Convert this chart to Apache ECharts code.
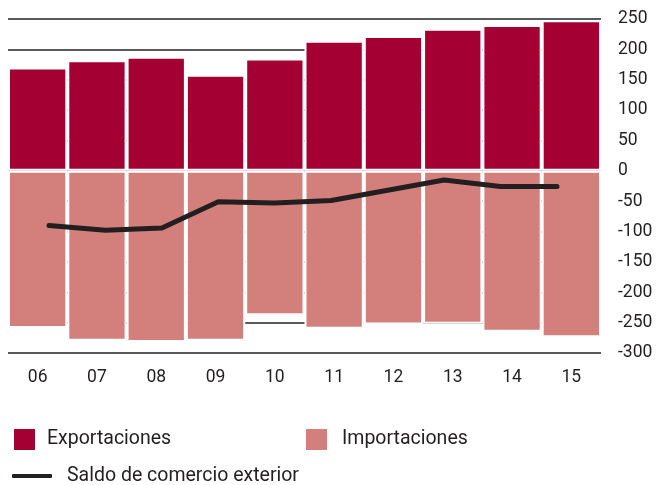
<!DOCTYPE html>
<html>
<head>
<meta charset="utf-8">
<script src="https://cdn.jsdelivr.net/npm/echarts@6/dist/echarts.min.js"></script>
<style>
html,body{margin:0;padding:0;background:#fff;}
#c{width:656px;height:485px;}
</style>
</head>
<body>
<div id="c"></div>
<script>
var categories = ['06','07','08','09','10','11','12','13','14','15'];
var exportaciones = [170, 182, 188, 158, 185, 214, 222, 234, 240, 248];
var importaciones = [-259, -280, -282, -280, -238, -260, -253, -252, -265, -274];
var saldo = [-90, -98, -94, -51, -53, -49, -32, -15, -26, -26];
var yTicks = [250, 200, 150, 100, 50, 0, -50, -100, -150, -200, -250, -300];

var FONT = 'Roboto';
var TXT = '#231f20';
var chart = echarts.init(document.getElementById('c'), null, {renderer: 'canvas'});
chart.setOption({
  animation: false,
  grid: [
    {left: 8, right: 55, top: 19, bottom: 132},
    {left: 49, right: 99, top: 19, bottom: 132}
  ],
  xAxis: [
    {
      type: 'category', gridIndex: 0, data: categories, boundaryGap: true,
      axisLine: {show: false}, axisTick: {show: false},
      axisLabel: {color: TXT, fontFamily: FONT, fontSize: 17.5, margin: 16}
    },
    {
      type: 'category', gridIndex: 1, data: categories, boundaryGap: false, show: false
    }
  ],
  yAxis: [
    {
      type: 'value', gridIndex: 0, position: 'right',
      min: yTicks[yTicks.length - 1], max: yTicks[0], interval: 50,
      axisLine: {show: false}, axisTick: {show: false},
      splitLine: {show: true, lineStyle: {color: '#222', width: 1.5}},
      axisLabel: {color: TXT, fontFamily: FONT, fontSize: 17.5, margin: 17, align: 'left'}
    },
    {
      type: 'value', gridIndex: 1,
      min: yTicks[yTicks.length - 1], max: yTicks[0], show: false
    }
  ],
  legend: [
    {
      data: [{name: 'Exportaciones', icon: 'rect'}], left: 12, top: 427, padding: 0,
      itemWidth: 23, itemHeight: 23,
      textStyle: {color: TXT, fontFamily: FONT, fontSize: 19.5, padding: [0, 0, 0, 6]}
    },
    {
      data: [{name: 'Importaciones', icon: 'rect'}], left: 304, top: 427, padding: 0,
      itemWidth: 23, itemHeight: 23,
      textStyle: {color: TXT, fontFamily: FONT, fontSize: 19.5, padding: [0, 0, 0, 9]}
    },
    {
      data: [{name: 'Saldo de comercio exterior', icon: 'roundRect'}], left: 12, top: 466, padding: 0,
      itemWidth: 40, itemHeight: 4,
      textStyle: {color: TXT, fontFamily: FONT, fontSize: 19.5, padding: [0, 0, 0, 10]}
    }
  ],
  series: [
    {
      name: 'Exportaciones', type: 'bar', xAxisIndex: 0, yAxisIndex: 0,
      data: exportaciones, stack: 'a', barCategoryGap: '0%', barWidth: '100%',
      itemStyle: {color: '#a50034', borderColor: '#fff', borderWidth: 2}
    },
    {
      name: 'Importaciones', type: 'bar', xAxisIndex: 0, yAxisIndex: 0,
      data: importaciones, stack: 'a', barCategoryGap: '0%', barWidth: '100%',
      itemStyle: {color: '#d3807c', borderColor: '#fff', borderWidth: 2}
    },
    {
      name: 'Saldo de comercio exterior', type: 'line', xAxisIndex: 1, yAxisIndex: 1,
      data: saldo, symbol: 'none', z: 5,
      itemStyle: {color: '#231f20'},
      lineStyle: {color: '#231f20', width: 5, cap: 'round', join: 'round'}
    }
  ]
});
</script>
</body>
</html>
